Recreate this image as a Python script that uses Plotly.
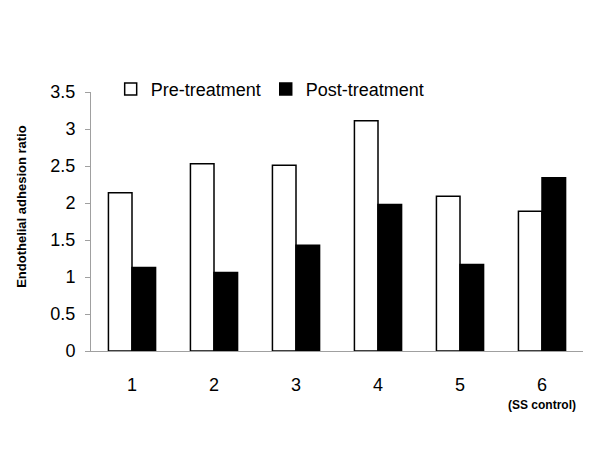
import plotly.graph_objects as go

categories = ["1", "2", "3", "4", "5", "6"]
tick_labels = ["<span style='font-size:18px'>1</span>",
               "<span style='font-size:18px'>2</span>",
               "<span style='font-size:18px'>3</span>",
               "<span style='font-size:18px'>4</span>",
               "<span style='font-size:18px'>5</span>",
               "<span style='font-size:18px'>6</span><br><b><span style='font-size:12px'>(SS control)</span></b>"]
pre_treatment = [2.14, 2.53, 2.51, 3.11, 2.09, 1.89]
post_treatment = [1.13, 1.06, 1.43, 1.98, 1.17, 2.34]

fig = go.Figure()

fig.add_trace(go.Bar(x=categories, y=pre_treatment, name='Pre-treatment',
                     marker=dict(color='white', line=dict(color='black', width=1.5))))
fig.add_trace(go.Bar(x=categories, y=post_treatment, name='Post-treatment',
                     marker=dict(color='black', line=dict(color='black', width=1.5))))

fig.update_layout(
    width=600, height=450,
    margin=dict(l=91, r=17, t=92, b=99, autoexpand=False),
    paper_bgcolor='white', plot_bgcolor='white',
    font=dict(family='Liberation Sans, Arial, sans-serif', size=18, color='black'),
    barmode='group', bargap=0.425, bargroupgap=0,
    showlegend=True,
    legend=dict(orientation='h', x=0.04, xanchor='left', y=1.01, yanchor='middle',
                font=dict(size=18), itemwidth=30, tracegroupgap=0,
                bgcolor='rgba(0,0,0,0)'),
    # y axis title placed by hand to sit where the original has it
    annotations=[dict(text='<b>Endothelial adhesion ratio</b>', textangle=-90,
                      xref='paper', yref='paper', x=-0.14, y=0.557,
                      xanchor='center', yanchor='middle', showarrow=False,
                      font=dict(size=13))],
)

fig.update_xaxes(
    tickmode='array', tickvals=categories, ticktext=tick_labels,
    tickfont=dict(size=14),
    showline=True, linecolor='#a0a0a0', linewidth=1,
    ticks='', ticklabelstandoff=22,
    showgrid=False, zeroline=False, automargin=False,
)

fig.update_yaxes(
    range=[0, 3.5], dtick=0.5, tickmode='linear',
    showline=True, linecolor='#a0a0a0', linewidth=1,
    ticks='outside', ticklen=5, tickcolor='#a0a0a0', ticklabelstandoff=6,
    showgrid=False, zeroline=False, automargin=False,
)

# drop the default 8px body margin so the figure sits at the window corner
fig.write_html("out.html", config={'displayModeBar': False},
               post_script="document.body.style.margin='0';")
